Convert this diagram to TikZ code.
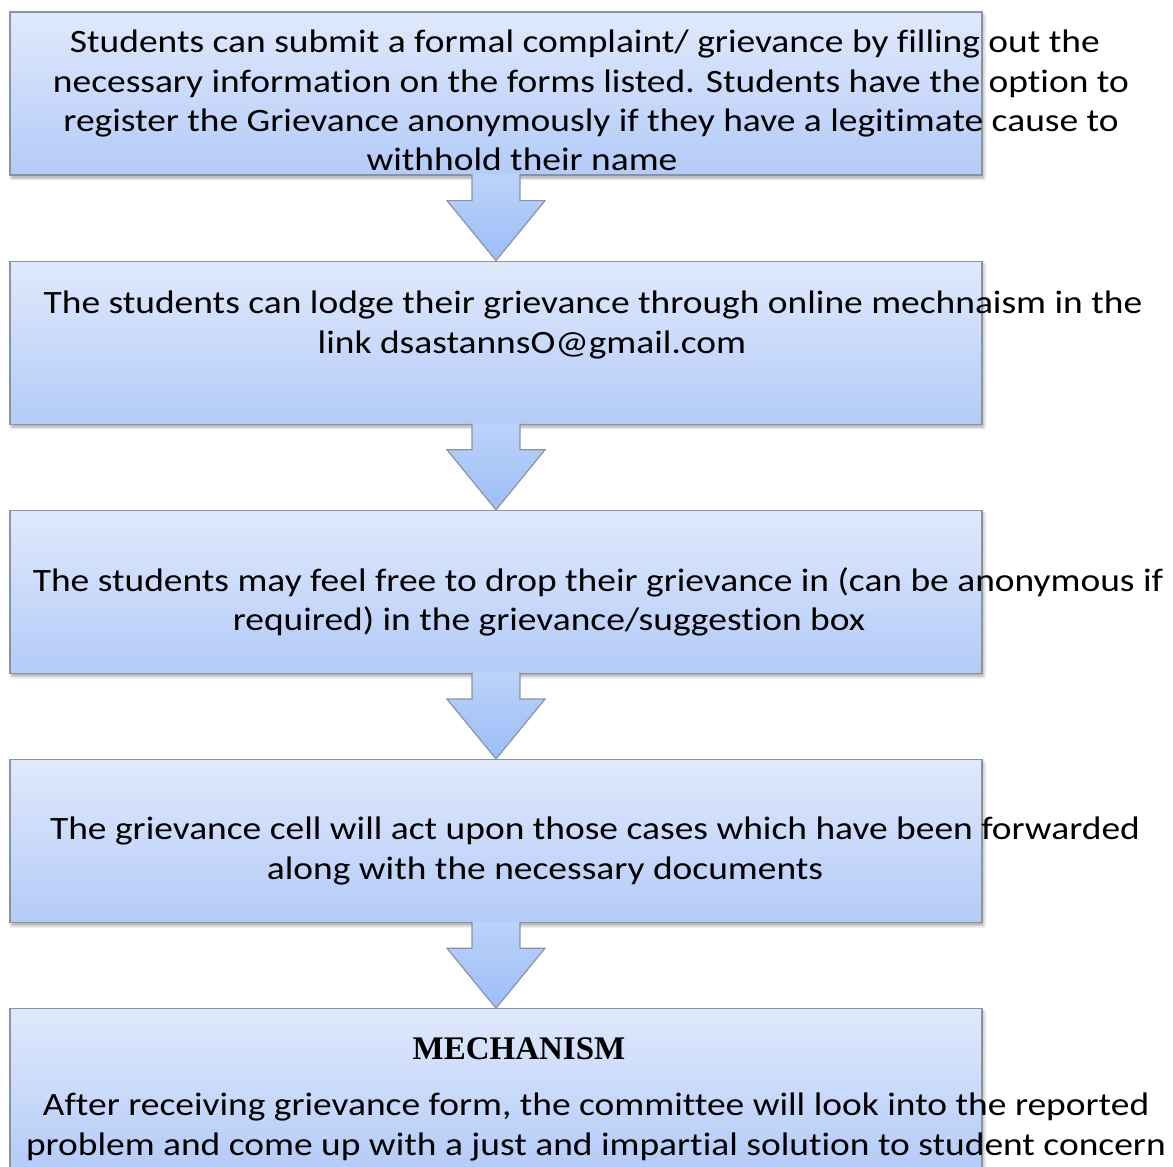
\documentclass[tikz,border=0pt]{standalone}
\usepackage{fontspec}
\setmainfont[Ligatures={NoCommon},FakeStretch=1.149]{Carlito}
\newfontfamily\headfont{Liberation Serif}
\usetikzlibrary{positioning,calc,shadows.blur}
\definecolor{boxtop}{HTML}{E0E9FC}
\definecolor{boxbot}{HTML}{B3CBF8}
\definecolor{arrtop}{HTML}{BCD3FA}
\definecolor{arrbot}{HTML}{9CBDF6}
\definecolor{edge}{HTML}{8A93A3}
\tikzset{
  stepbox/.style={draw=edge, line width=0.6pt, top color=boxtop, bottom color=boxbot,
    minimum width=486pt, minimum height=81.5pt, inner sep=0pt,
    blur shadow={shadow xshift=0.8pt, shadow yshift=-1.5pt, shadow blur radius=1.5pt, shadow opacity=35}},
  flow/.style={draw=edge, line width=0.6pt, top color=arrtop, bottom color=arrbot, line join=miter},
  txt/.style={font=\fontsize{16.3pt}{19.6pt}\selectfont, align=center, inner sep=0pt},
  head/.style={font=\headfont\bfseries\fontsize{16.5pt}{19pt}\selectfont, inner sep=0pt}
}
\newcommand{\flowarrow}[2]{%
  \path[flow] ($(#1.south)+(-24,-1.5)$) -- ($(#1.south)+(-24,25)$) -- ($(#1.south)+(-49,25)$)
    -- (#2.north) -- ($(#1.south)+(49,25)$) -- ($(#1.south)+(24,25)$) -- ($(#1.south)+(24,-1.5)$);}
\begin{document}
\begin{tikzpicture}[x=0.5pt,y=-0.5pt]
  \useasboundingbox (0,0) rectangle (1173,1167);
  % boxes
  \node[stepbox] (s1) at (496,93.5) {};
  \node[stepbox, below=42.5pt of s1] (s2) {};
  \node[stepbox, below=42.5pt of s2] (s3) {};
  \node[stepbox, below=42.5pt of s3] (s4) {};
  \node[stepbox, below=42.5pt of s4] (s5) {};
  % arrows
  \foreach \a/\b in {s1/s2,s2/s3,s3/s4,s4/s5}
    \flowarrow{\a}{\b};
  % texts
  \node[txt] (t1) at (591,100.5) {Students can submit a formal complaint/ grievance by filling out the\rule{6pt}{0pt}\\
    necessary information on the forms listed. Students have the option to\\
    register the Grievance anonymously if they have a legitimate cause to\\
    withhold their name\rule{69pt}{0pt}};
  \node[txt] (t2) at (593,325) {The students can lodge their grievance through online mechnaism in the\\
    link dsastannsO@gmail.com\rule{61pt}{0pt}};
  \node[txt] (t3) at (598,601.5) {The students may feel free to drop their grievance in (can be anonymous if\\
    required) in the grievance/suggestion box\rule{49pt}{0pt}};
  \node[txt] (t4) at (595,851) {The grievance cell will act upon those cases which have been forwarded\\
    along with the necessary documents\rule{50pt}{0pt}};
  \node[head] (m5) at (519,1049) {MECHANISM};
  \node[txt] (t5) at (596,1127) {After receiving grievance form, the committee will look into the reported\\
    problem and come up with a just and impartial solution to student concern};
\end{tikzpicture}
\end{document}
